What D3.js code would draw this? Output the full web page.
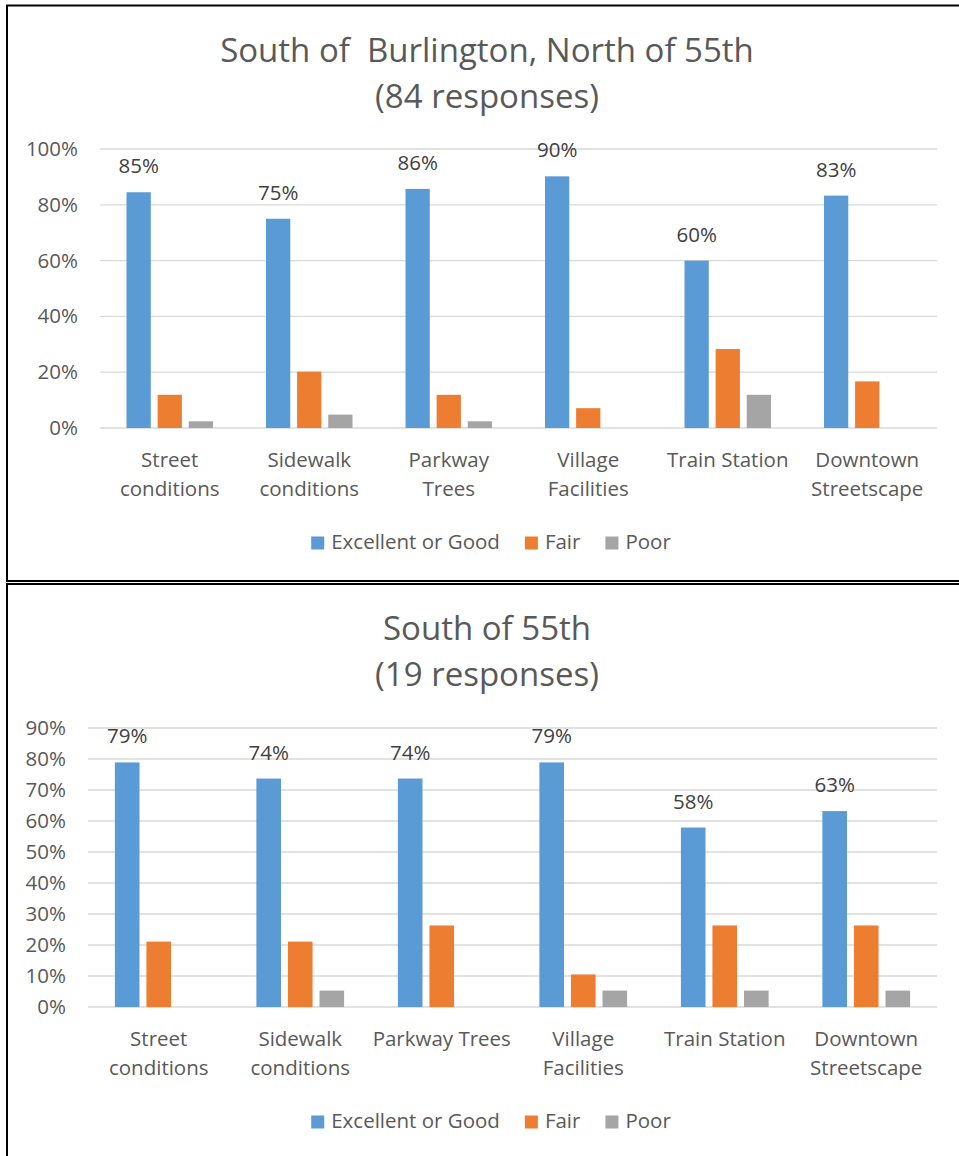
<!DOCTYPE html>
<html>
<head>
<meta charset="utf-8">
<script src="https://cdn.jsdelivr.net/npm/d3@7"></script>
<style>
  body { margin: 0; background: #fff; }
  svg { display: block; font-family: "Open Sans", "Noto Sans", sans-serif; }
</style>
</head>
<body>
<svg id="chart" width="959" height="1156"></svg>
<script>
// ---------- DATA ----------
const series = ["Excellent or Good", "Fair", "Poor"];
const seriesColors = ["#5B9BD5", "#ED7D31", "#A5A5A5"];

const topTitle = ["South of\u00a0 Burlington, North of 55th", "(84 responses)"];
const topCategories = ["Street conditions", "Sidewalk conditions", "Parkway Trees", "Village Facilities", "Train Station", "Downtown Streetscape"];
const topCategoryLines = [["Street", "conditions"], ["Sidewalk", "conditions"], ["Parkway", "Trees"], ["Village", "Facilities"], ["Train Station"], ["Downtown", "Streetscape"]];
const topExcellent = [84.5, 75.0, 85.7, 90.2, 60.0, 83.3];
const topFair = [11.9, 20.2, 11.9, 7.1, 28.3, 16.7];
const topPoor = [2.4, 4.8, 2.4, 0, 11.9, 0];
const topTicks = [0, 20, 40, 60, 80, 100];

const bottomTitle = ["South of 55th", "(19 responses)"];
const bottomCategories = ["Street conditions", "Sidewalk conditions", "Parkway Trees", "Village Facilities", "Train Station", "Downtown Streetscape"];
const bottomCategoryLines = [["Street", "conditions"], ["Sidewalk", "conditions"], ["Parkway Trees"], ["Village", "Facilities"], ["Train Station"], ["Downtown", "Streetscape"]];
const bottomExcellent = [78.9, 73.7, 73.7, 78.9, 57.9, 63.2];
const bottomFair = [21.1, 21.1, 26.3, 10.5, 26.3, 26.3];
const bottomPoor = [0, 5.3, 0, 5.3, 5.3, 5.3];
const bottomTicks = [0, 10, 20, 30, 40, 50, 60, 70, 80, 90];

// ---------- DRAW ----------
const svg = d3.select("#chart");
const FONT = 20.5;
const textColor = "#595959";

function drawChart(cfg) {
  const g = svg.append("g");
  // frame
  g.append("rect")
    .attr("x", 7).attr("y", cfg.frameTop)
    .attr("width", 975).attr("height", cfg.frameH)
    .attr("fill", "none").attr("stroke", "#000").attr("stroke-width", 2);

  // title
  const title = g.append("text")
    .attr("text-anchor", "middle")
    .attr("fill", textColor)
    .style("font-size", "33px");
  cfg.title.forEach((t, i) => {
    title.append("tspan").attr("x", 487).attr("y", cfg.titleY + i * 45.5).text(t);
  });

  const y = d3.scaleLinear().domain([0, cfg.yMax]).range([cfg.y0, cfg.yTop]);
  const x0 = d3.scaleBand().domain(cfg.categories).range([cfg.x0, cfg.x1]).paddingInner(0.38).paddingOuter(0.19);
  const x1 = d3.scaleBand().domain(series).range([0, x0.bandwidth()]).paddingInner(0.22).paddingOuter(0);

  // gridlines
  g.append("g").selectAll("line").data(cfg.ticks).join("line")
    .attr("x1", cfg.x0).attr("x2", cfg.x1)
    .attr("y1", d => y(d)).attr("y2", d => y(d))
    .attr("stroke", "#d9d9d9").attr("stroke-width", 1.3);

  // y axis labels
  const yAxis = d3.axisLeft(y).tickValues(cfg.ticks).tickFormat(d => d + "%").tickSize(0).tickPadding(0);
  const ya = g.append("g").attr("transform", `translate(${cfg.yLabelX},0)`).call(yAxis);
  ya.select(".domain").remove();
  ya.selectAll("text").attr("fill", textColor).style("font-size", FONT + "px")
    .style("font-family", '"Open Sans", "Noto Sans", sans-serif');

  // bars
  const values = [cfg.excellent, cfg.fair, cfg.poor];
  const rows = cfg.categories.map((c, i) => ({ cat: c, vals: series.map((s, j) => ({ s, j, v: values[j][i] })) }));
  const groups = g.append("g").selectAll("g").data(rows).join("g")
    .attr("transform", d => `translate(${x0(d.cat)},0)`);
  groups.selectAll("rect").data(d => d.vals).join("rect")
    .attr("x", d => x1(d.s))
    .attr("width", x1.bandwidth())
    .attr("y", d => y(d.v))
    .attr("height", d => cfg.y0 - y(d.v))
    .attr("fill", d => seriesColors[d.j]);

  // data labels (Excellent or Good)
  groups.append("text")
    .attr("x", x1(series[0]) + x1.bandwidth() / 2)
    .attr("y", (d, i) => y(cfg.excellent[i]) - 19)
    .attr("text-anchor", "middle")
    .attr("fill", "#404040")
    .style("font-size", FONT + "px")
    .text((d, i) => Math.round(cfg.excellent[i]) + "%");

  // category labels
  const cl = g.append("g").selectAll("text").data(cfg.categories).join("text")
    .attr("text-anchor", "middle")
    .attr("fill", textColor)
    .style("font-size", FONT + "px");
  cl.each(function (d, i) {
    const t = d3.select(this);
    cfg.lines[i].forEach((ln, k) => {
      t.append("tspan").attr("x", x0(d) + x0.bandwidth() / 2).attr("y", cfg.y0 + 39 + k * 29).text(ln);
    });
  });

  // legend
  const lg = g.append("g");
  const items = lg.selectAll("g").data(series).join("g");
  items.append("rect").attr("width", 13).attr("height", 13).attr("y", -12.5)
    .attr("fill", (d, i) => seriesColors[i]);
  items.append("text").attr("x", 20).attr("fill", textColor)
    .style("font-size", FONT + "px").text(d => d);
  let cx = 0;
  items.each(function () {
    const w = 20 + d3.select(this).select("text").node().getComputedTextLength();
    d3.select(this).attr("transform", `translate(${cx},0)`);
    cx += w + 25;
  });
  const total = cx - 25;
  lg.attr("transform", `translate(${491 - total / 2},${cfg.y0 + 121})`);
}

drawChart({
  frameTop: 5.5, frameH: 575.5,
  title: topTitle, titleY: 62,
  categories: topCategories, lines: topCategoryLines,
  excellent: topExcellent, fair: topFair, poor: topPoor,
  ticks: topTicks, yMax: 100,
  x0: 100, x1: 937, y0: 428, yTop: 149, yLabelX: 78
});

drawChart({
  frameTop: 584, frameH: 600,
  title: bottomTitle, titleY: 640,
  categories: bottomCategories, lines: bottomCategoryLines,
  excellent: bottomExcellent, fair: bottomFair, poor: bottomPoor,
  ticks: bottomTicks, yMax: 90,
  x0: 88, x1: 937, y0: 1007, yTop: 728, yLabelX: 66
});
</script>
</body>
</html>
